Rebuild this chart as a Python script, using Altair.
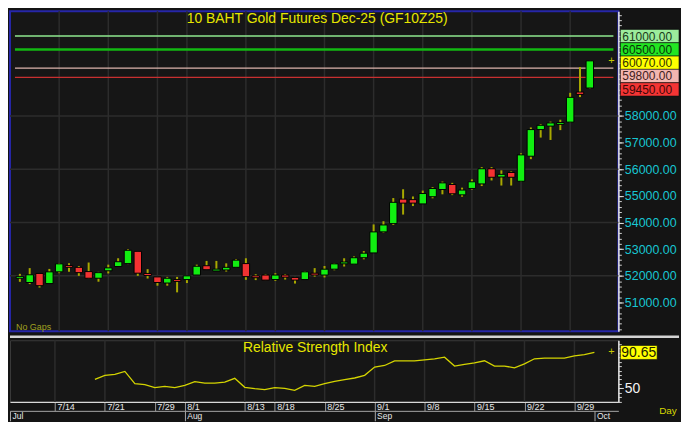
import json
import altair as alt
import pandas as pd

FONT = "Liberation Sans"

# ---------------- data ----------------
opens = [51925, 51750, 52090, 51710, 52150, 52380, 52320, 52160, 51910, 52190,
         52350, 52460, 52920, 52090, 51960, 51730, 51850, 51860, 52030, 52380,
         52210, 52220, 52320, 52460, 51990, 52030, 51860, 52030, 51940, 51860,
         52100, 52030, 52250, 52450, 52440, 52680, 52860, 53650, 53960, 54880,
         54860, 54700, 54970, 55240, 55430, 55040, 55280, 55450, 56020, 55710,
         55880, 55550, 56490, 57490, 57620, 57690, 57770, 58900, 59050]
highs = [52075, 52290, 52090, 52260, 52480, 52470, 52370, 52500, 52150, 52420,
         52660, 53000, 52920, 52250, 51960, 51960, 51960, 52000, 52420, 52560,
         52560, 52470, 52630, 52660, 52060, 52060, 52100, 52070, 51960, 52170,
         52290, 52370, 52470, 52660, 52730, 52930, 53930, 54050, 54920, 55250,
         54980, 55200, 55330, 55540, 55490, 55310, 55620, 56080, 56080, 55960,
         55920, 56600, 57570, 57690, 57790, 57860, 58870, 59840, 60070]
lows = [51776, 51690, 51560, 51700, 52100, 52150, 52000, 51900, 51780, 52090,
        52350, 52440, 52000, 51900, 51630, 51630, 51380, 51730, 52030, 52230,
        52210, 52160, 52320, 51850, 51840, 51840, 51810, 51860, 51710, 51850,
        51970, 51940, 52210, 52350, 52440, 52620, 52860, 53620, 53910, 54300,
        54620, 54700, 54910, 55060, 55030, 54970, 55240, 55370, 55580, 55390,
        55390, 55530, 56380, 57190, 57100, 57470, 57760, 58710, 59030]
closes = [51963, 52040, 51630, 52150, 52450, 52330, 52120, 51910, 52120, 52300,
          52530, 52960, 52100, 52010, 51750, 51910, 51800, 52000, 52360, 52230,
          52225, 52320, 52590, 51970, 51940, 51840, 52030, 51950, 51840, 52150,
          52030, 52250, 52450, 52520, 52680, 52850, 53650, 53910, 54760, 54730,
          54730, 55090, 55280, 55490, 55080, 55220, 55530, 56020, 55700, 55810,
          55700, 56540, 57490, 57650, 57740, 57750, 58700, 58810, 60070]

rsi_first = 8
rsi_vals = [60.2, 64.7, 65.8, 69.2, 55.3, 54.1, 50.8, 52.3, 50.8, 53.4,
            57.5, 56.0, 56.0, 57.1, 61.3, 51.1, 49.6, 48.5, 50.8, 50.0,
            47.7, 53.4, 52.3, 55.3, 57.9, 59.8, 61.7, 64.7, 74.1, 75.9,
            81.2, 81.2, 81.2, 82.3, 83.5, 85.3, 75.2, 77.1, 78.9, 81.2,
            75.2, 75.2, 73.3, 77.8, 83.5, 84.2, 84.2, 84.2, 86.8, 88.3, 90.65]

day_idx = [4, 9, 14, 17, 23, 26, 31, 36, 41, 46, 51, 56]
day_lbl = ["7/14", "7/21", "7/29", "8/1", "8/13", "8/18", "8/25",
           "9/1", "9/8", "9/15", "9/22", "9/29"]
month_idx = [-0.5, 17, 36, 58]
month_lbl = ["Jul", "Aug", "Sep", "Oct"]

price_grid = [52000, 54000, 56000, 58000]
price_ticks = list(range(51000, 59000, 1000))
price_minor = list(range(50000, 62000, 200))
level_vals = [61000, 60500, 59800, 59450]
box_vals = [61000, 60500, 60070, 59800, 59450]
last_price = 60070
last_rsi = 90.65
rsi_ticks = [50]
rsi_minor = list(range(35, 105, 5))

title_main = "10 BAHT Gold Futures Dec-25 (GF10Z25)"
title_rsi = "Relative Strength Index"

# ---------------- layout / style ----------------
W = 612
H1 = 322
H2 = 62
XDOM = [-0.5, 60.4]
YDOM = [49918, 61933]
RDOM = [34.6, 104.5]
BG = "#141414"
GREEN = "#11ee11"
RED = "#f23232"
YEL = "#e6e600"
RIGHT = 61  # width of the right-hand label column

xs = alt.Scale(domain=XDOM, nice=False, zero=False)
ys = alt.Scale(domain=YDOM, nice=False, zero=False)
rs = alt.Scale(domain=RDOM, nice=False, zero=False)


def Xn(f):
    return alt.X(f, scale=xs, axis=None)


def Yn(f):
    return alt.Y(f, scale=ys, axis=None)


def Rn(f):
    return alt.Y(f, scale=rs, axis=None)


one = pd.DataFrame({"k": [0]})

# ---------------- main price panel ----------------
candles = pd.DataFrame({"i": list(range(len(opens))), "o": opens, "h": highs,
                        "l": lows, "c": closes})

vgrid = alt.Chart(pd.DataFrame({"i": day_idx})).mark_rule(
    color="#2c2c2c", strokeWidth=1.5).encode(x=Xn("i:Q"))

hgrid = alt.Chart(pd.DataFrame({"p": price_grid})).mark_rule(
    color="#2c2c2c", strokeWidth=1.5).encode(y=Yn("p:Q"))

minor_axis_layer = alt.Chart(pd.DataFrame({"p": [55000]})).mark_point(
    opacity=0, size=0).encode(
    x=alt.value(W / 2),
    y=alt.Y("p:Q", scale=ys, axis=alt.Axis(
        orient="right", values=price_minor, labels=False, domain=False,
        ticks=True, tickSize=3, tickColor="#d0d0d0", grid=False, title=None)))

level_styles = {61000: ("#8fe88f", 1.5), 60500: ("#12b812", 2.5),
                59800: ("#dcb4ac", 1.3), 59450: ("#c83030", 1.3)}
level_layers = []
for v in level_vals:
    col, w = level_styles[v]
    level_layers.append(
        alt.Chart(pd.DataFrame({"p": [v]})).mark_rule(color=col, strokeWidth=w).encode(
            y=Yn("p:Q"), x=alt.value(5), x2=alt.value(W - 5)))

wicks = alt.Chart(candles).mark_rule(color="#a8a800", strokeWidth=2).encode(
    x=Xn("i:Q"),
    y=alt.Y("l:Q", scale=ys, axis=alt.Axis(
        orient="right", values=price_ticks, format=".2f", labelColor="#17c6d2",
        labelFont=FONT, labelFontSize=12.5, labelPadding=1, tickSize=5,
        tickColor="#e0e0e0", domainColor="#e8e8e8", domainWidth=1.5,
        grid=False, title=None, labelOverlap=False)),
    y2="h:Q")

bodies = alt.Chart(candles).transform_calculate(
    lo="min(datum.o, datum.c)", hi="max(datum.o, datum.c)",
    dir="datum.c >= datum.o ? 'up' : 'down'"
).transform_calculate(
    lo2="datum.hi - datum.lo < 70 ? (datum.lo + datum.hi) / 2 - 35 : datum.lo",
    hi2="datum.hi - datum.lo < 70 ? (datum.lo + datum.hi) / 2 + 35 : datum.hi"
).mark_bar(size=7.5, stroke="#000000", strokeWidth=1).encode(
    x=Xn("i:Q"), y=Yn("lo2:Q"), y2="hi2:Q",
    color=alt.Color("dir:N", scale=alt.Scale(domain=["up", "down"], range=[GREEN, RED]),
                    legend=None))

# label boxes: fill, text colour, downward shift (px) so the stacked boxes do not overlap
box_styles = {61000: ("#9cec9c", "#1a3a1a", 0), 60500: ("#22e622", "#0a300a", 0),
              60070: ("#ffff00", "#303000", 1.9), 59800: ("#f2b6b0", "#402020", 8.0),
              59450: ("#f43434", "#400808", 12.1)}
box_layers = []
for v in box_vals:
    fill, tcol, sh = box_styles[v]
    d = alt.Chart(pd.DataFrame({"p": [v]}))
    box_layers.append(d.mark_rect(fill=fill, stroke="#101010", strokeWidth=0.6,
                                  yOffset=sh - 6.7, y2Offset=sh + 6.7).encode(
        x=alt.value(W + 2), x2=alt.value(W + RIGHT), y=Yn("p:Q"), y2="p:Q"))
    box_layers.append(d.mark_text(align="left", baseline="middle", font=FONT,
                                  fontSize=12, color=tcol, yOffset=sh + 0.5).encode(
        x=alt.value(W + 4), y=Yn("p:Q"), text=alt.Text("p:Q", format=".2f")))

last_mark = alt.Chart(pd.DataFrame({"p": [last_price]})).mark_text(
    text="+", color="#c8c800", fontSize=11, font=FONT, baseline="middle").encode(
    x=alt.value(W - 7), y=Yn("p:Q"))

main_title = alt.Chart(pd.DataFrame({"t": [title_main]})).mark_text(
    color=YEL, font=FONT, fontSize=14, baseline="middle").encode(
    text="t:N", x=alt.value(W / 2 + 3), y=alt.value(7.5))

nogaps = alt.Chart(pd.DataFrame({"t": ["No Gaps"]})).mark_text(
    color="#a0a020", font=FONT, fontSize=9, align="left", baseline="middle").encode(
    text="t:N", x=alt.value(6), y=alt.value(H1 - 4.5))

main = alt.layer(
    vgrid, hgrid, minor_axis_layer, *level_layers, wicks, bodies, last_mark,
    main_title, nogaps, *box_layers
).resolve_axis(y="independent", x="independent").properties(
    width=W, height=H1,
    view=alt.ViewBackground(fill="#161616", stroke="#2626a8", strokeWidth=2))

# ---------------- RSI panel ----------------
rsi_df = pd.DataFrame({"i": list(range(rsi_first, rsi_first + len(rsi_vals))),
                       "r": rsi_vals})

day_expr = "%s[indexof(%s, datum.value)]" % (json.dumps(day_lbl), json.dumps(day_idx))
month_expr = "%s[indexof(%s, datum.value)]" % (json.dumps(month_lbl), json.dumps(month_idx))

rsi_vgrid = alt.Chart(pd.DataFrame({"i": day_idx})).mark_rule(
    color="#2c2c2c", strokeWidth=1.5).encode(x=Xn("i:Q"))

sep = alt.Chart(one).mark_rule(color="#d4d4d4", strokeWidth=2.5).encode(
    x=alt.value(0), x2=alt.value(W + RIGHT), y=alt.value(-3.5))

rsi_minor_layer = alt.Chart(pd.DataFrame({"r": [60]})).mark_point(
    opacity=0, size=0).encode(
    x=alt.value(W / 2),
    y=alt.Y("r:Q", scale=rs, axis=alt.Axis(
        orient="right", values=rsi_minor, labels=False, domain=False,
        tickSize=3, tickColor="#d0d0d0", grid=False, title=None)))

month_layer = alt.Chart(pd.DataFrame({"i": [30]})).mark_point(
    opacity=0, size=0).encode(
    y=alt.value(H2 / 2),
    x=alt.X("i:Q", scale=xs, axis=alt.Axis(
        orient="bottom", offset=9, values=month_idx, labelExpr=month_expr,
        domainColor="#a8a8a8", tickColor="#a8a8a8", tickSize=10,
        labelAlign="left", labelBaseline="top", labelPadding=-9.5, labelOffset=2,
        labelColor="#e8e8e8", labelFont=FONT, labelFontSize=8.5,
        labelFlush=False, labelOverlap=False, labelBound=False,
        grid=False, title=None)))

rsi_line = alt.Chart(rsi_df).mark_line(color="#d4d400", strokeWidth=1.3).encode(
    x=alt.X("i:Q", scale=xs, axis=alt.Axis(
        orient="bottom", values=day_idx, labelExpr=day_expr,
        domainColor="#d8d8d8", domainWidth=1.2, tickColor="#9a9a9a", tickSize=9,
        labelAlign="left", labelBaseline="top", labelPadding=-8, labelOffset=2,
        labelColor="#e8e8e8", labelFont=FONT, labelFontSize=9,
        labelFlush=False, labelOverlap=False, labelBound=False,
        grid=False, title=None)),
    y=alt.Y("r:Q", scale=rs, axis=alt.Axis(
        orient="right", values=rsi_ticks, labelColor="#f2f2f2", labelFont=FONT,
        labelFontSize=14, labelPadding=1, tickSize=5, tickColor="#e0e0e0",
        domainColor="#e8e8e8", domainWidth=1.5, grid=False, title=None)))

rsi_title = alt.Chart(pd.DataFrame({"t": [title_rsi]})).mark_text(
    color=YEL, font=FONT, fontSize=14, baseline="middle").encode(
    text="t:N", x=alt.value(W / 2 + 1), y=alt.value(8))

rsi_last = alt.Chart(pd.DataFrame({"r": [last_rsi]})).mark_text(
    text="+", color="#c8c800", fontSize=11, font=FONT, baseline="middle").encode(
    x=alt.value(W - 7), y=Rn("r:Q"))

rsi_box = alt.Chart(pd.DataFrame({"r": [last_rsi]})).mark_rect(
    fill="#ffff00", stroke="#101010", strokeWidth=0.6, yOffset=-7, y2Offset=7).encode(
    x=alt.value(W + 2), x2=alt.value(W + 39), y=Rn("r:Q"), y2="r:Q")
rsi_box_txt = alt.Chart(pd.DataFrame({"r": [last_rsi]})).mark_text(
    align="left", baseline="middle", font=FONT, fontSize=14, color="#202000",
    yOffset=0.5).encode(x=alt.value(W + 3), y=Rn("r:Q"),
                        text=alt.Text("r:Q", format=".2f"))

day_word = alt.Chart(pd.DataFrame({"t": ["Day"]})).mark_text(
    color="#d6d600", font=FONT, fontSize=10, align="left", baseline="middle").encode(
    text="t:N", x=alt.value(W + 41), y=alt.value(H2 + 9))

rsi = alt.layer(
    rsi_vgrid, sep, rsi_minor_layer, month_layer, rsi_line, rsi_title, rsi_last,
    rsi_box, rsi_box_txt, day_word
).resolve_axis(x="independent", y="independent").properties(
    width=W, height=H2,
    view=alt.ViewBackground(fill="#161616", stroke="#3a3a3a", strokeWidth=1))

chart = alt.vconcat(main, rsi, spacing=1).properties(
    background=BG, padding=0
).configure(font=FONT)

chart.save("out.html", embed_options={"renderer": "svg", "actions": False})
